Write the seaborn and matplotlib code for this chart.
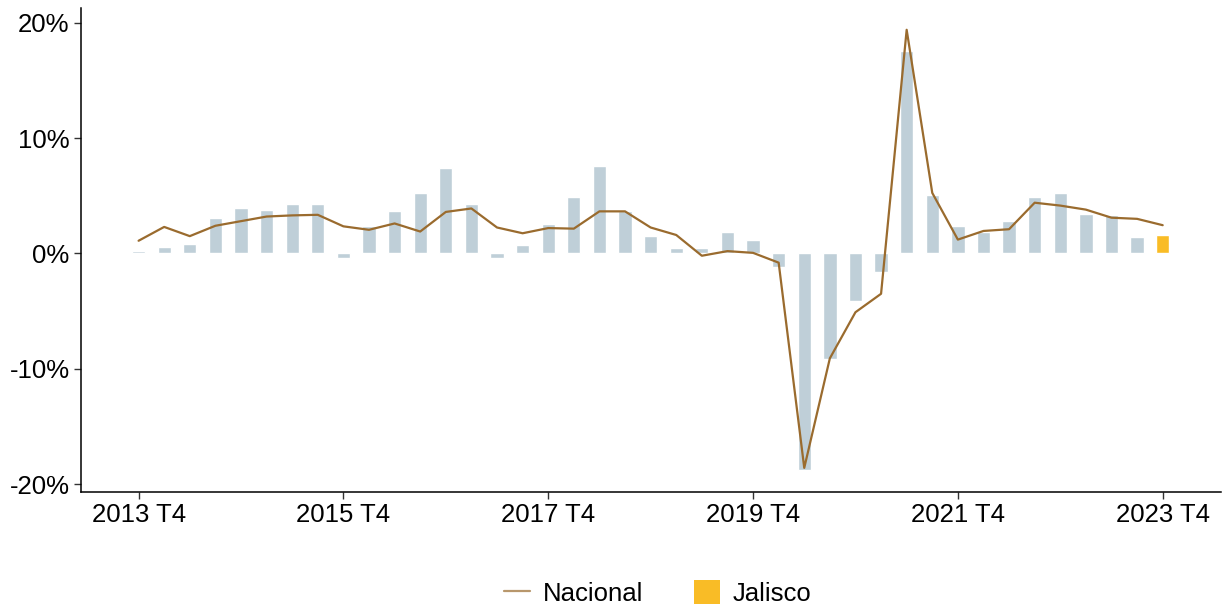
import numpy as np
import pandas as pd
import matplotlib
matplotlib.use("Agg")
import matplotlib.pyplot as plt
from matplotlib.lines import Line2D
from matplotlib.patches import Patch
from matplotlib.ticker import FuncFormatter
import seaborn as sns

# Trimestres 2013 T4 ... 2023 T4
quarters = ["2013 T4"] + [f"{y} T{q}" for y in range(2014, 2024) for q in range(1, 5)]

# Variación anual (%) - Jalisco (barras)
jalisco = [0.2, 0.55, 0.83, 3.1, 3.9, 3.8, 4.3, 4.3, -0.4, 2.4,
           3.65, 5.2, 7.4, 4.3, -0.4, 0.7, 2.55, 4.9, 7.6, 3.7,
           1.5, 0.5, 0.45, 1.85, 1.2, -1.2, -18.8, -9.2, -4.15, -1.65,
           17.6, 5.05, 2.4, 1.85, 2.8, 4.9, 5.25, 3.4, 3.3, 1.4,
           1.6]

# Variación anual (%) - Nacional (línea)
nacional = [1.1, 2.3, 1.5, 2.4, 2.8, 3.2, 3.3, 3.35, 2.35, 2.05,
            2.6, 1.9, 3.6, 3.9, 2.25, 1.75, 2.2, 2.15, 3.65, 3.65,
            2.25, 1.6, -0.2, 0.2, 0.05, -0.8, -18.6, -9.1, -5.1, -3.5,
            19.4, 5.25, 1.2, 1.95, 2.1, 4.4, 4.15, 3.8, 3.1, 3.0,
            2.45]

tick_labels = ["2013 T4", "2015 T4", "2017 T4", "2019 T4", "2021 T4", "2023 T4"]

bar_color = "#bfcfd8"
last_color = "#f9bc26"
line_color = "#9a6b2e"

df = pd.DataFrame({"trimestre": quarters, "jalisco": jalisco, "nacional": nacional})
df["pos"] = np.arange(len(df))
colors = [bar_color] * (len(df) - 1) + [last_color]

sns.set_style("white")
plt.rcParams["font.family"] = ["Liberation Sans", "DejaVu Sans"]
plt.rcParams["text.color"] = "black"

fig, ax = plt.subplots(figsize=(12.23, 6.06), dpi=100)
fig.subplots_adjust(left=0.066, right=0.998, top=0.987, bottom=0.188)

sns.barplot(data=df, x="trimestre", y="jalisco", hue="trimestre",
            palette=colors, order=quarters, hue_order=quarters,
            width=0.52, legend=False, ax=ax, saturation=1)
sns.lineplot(data=df, x="pos", y="nacional", color=line_color,
             linewidth=1.6, ax=ax)

ax.set_xlim(-2.26, 42.26)
ax.set_ylim(-20.7, 21.3)
ax.set_yticks([-20, -10, 0, 10, 20])
ax.yaxis.set_major_formatter(FuncFormatter(lambda v, p: f"{v:.0f}%"))
ax.set_xticks([quarters.index(t) for t in tick_labels])
ax.set_xticklabels(tick_labels)
ax.set_xlabel("")
ax.set_ylabel("")
ax.tick_params(axis="both", labelsize=18.5, length=5, width=1, color="#333333",
               labelcolor="black", direction="out", bottom=True, left=True)
ax.tick_params(axis="x", pad=3)
ax.tick_params(axis="y", pad=3)

sns.despine(ax=ax)
for s in ["left", "bottom"]:
    ax.spines[s].set_color("black")
    ax.spines[s].set_linewidth(1.1)

handles = [Line2D([0], [0], color=line_color, alpha=0.7, linewidth=1.6),
           Patch(facecolor=last_color, edgecolor="none")]
fig.legend(handles, ["Nacional", "Jalisco"], loc="lower center",
           bbox_to_anchor=(0.538, -0.038), ncol=2, frameon=False, fontsize=18.5,
           handlelength=1.0, handleheight=1.05, columnspacing=2.0,
           handletextpad=0.5, labelcolor="black")

fig.savefig("out.png", dpi=100)
